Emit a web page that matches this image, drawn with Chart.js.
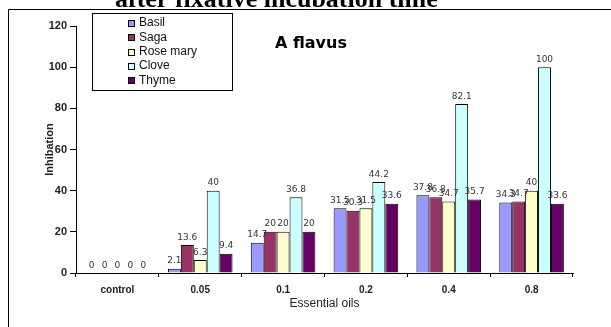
<!DOCTYPE html>
<html>
<head>
<meta charset="utf-8">
<script src="https://cdn.jsdelivr.net/npm/chart.js@4.4.0/dist/chart.umd.min.js"></script>
<style>
    html, body { margin: 0; padding: 0; background: #fff; overflow: hidden; }
    #wrap { position: relative; width: 611px; height: 327px; }
</style>
</head>
<body>
<div id="wrap"><canvas id="myChart" width="611" height="327"></canvas></div>
<script>
// chart data
const categories = ["control", "0.05", "0.1", "0.2", "0.4", "0.8"]
const seriesNames = ["Basil", "Saga", "Rose mary", "Clove", "Thyme"]
const basil = [0, 2.1, 14.7, 31.5, 37.8, 34.3]
const saga = [0, 13.6, 20, 30.3, 36.8, 34.7]
const rosemary = [0, 6.3, 20, 31.5, 34.7, 40]
const clove = [0, 40, 36.8, 44.2, 82.1, 100]
const thyme = [0, 9.4, 20, 33.6, 35.7, 33.6]
const yTicks = [0, 20, 40, 60, 80, 100, 120]

const colors = ["#9999FF", "#993366", "#FFFFCC", "#CCFFFF", "#660066"]
const allSeries = [basil, saga, rosemary, clove, thyme]

// frame, cut title, legend box, "A flavus" and value labels
const decorPlugin = {
    id: "decor",
    beforeDraw(chart) {
        const ctx = chart.ctx
        ctx.save()
        ctx.strokeStyle = "#000"
        ctx.lineWidth = 1
        ctx.beginPath()
        ctx.moveTo(8.5, 327)
        ctx.lineTo(8.5, 9.5)
        ctx.lineTo(611, 9.5)
        ctx.stroke()
        // title cut off at the top of the picture
        ctx.fillStyle = "#000"
        ctx.font = "bold 26px 'Liberation Serif', 'Times New Roman', serif"
        ctx.textBaseline = "alphabetic"
        ctx.textAlign = "left"
        ctx.fillText("after fixative incubation time", 115, 7)
        ctx.restore()
    },
    afterDatasetsDraw(chart) {
        const ctx = chart.ctx
        ctx.save()
        ctx.font = "9px 'DejaVu Sans', sans-serif"
        ctx.fillStyle = "#333"
        ctx.textAlign = "center"
        ctx.textBaseline = "alphabetic"
        chart.data.datasets.forEach((ds, i) => {
            const meta = chart.getDatasetMeta(i)
            meta.data.forEach((bar, j) => {
                ctx.fillText(String(ds.data[j]), bar.x, bar.y - 5.5)
            })
        })
        ctx.restore()
    },
    afterDraw(chart) {
        const ctx = chart.ctx
        ctx.save()
        // legend box
        ctx.fillStyle = "#fff"
        ctx.fillRect(92, 13, 140, 77)
        ctx.strokeStyle = "#000"
        ctx.lineWidth = 1
        ctx.strokeRect(92.5, 13.5, 140, 77)
        ctx.font = "12px 'Liberation Sans', Arial, sans-serif"
        ctx.textBaseline = "middle"
        ctx.textAlign = "left"
        chart.data.datasets.forEach((ds, i) => {
            const y = 23 + i * 14.3
            ctx.fillStyle = ds.backgroundColor
            ctx.fillRect(128, Math.round(y) - 3, 7, 7)
            ctx.strokeStyle = "#000"
            ctx.strokeRect(128.5, Math.round(y) - 2.5, 6, 6)
            ctx.fillStyle = "#111"
            ctx.fillText(ds.label, 139, y)
        })
        // panel name
        ctx.font = "bold 16px 'DejaVu Sans', Verdana, sans-serif"
        ctx.fillStyle = "#000"
        ctx.fillText("A flavus", 275, 44)
        ctx.restore()
    }
}

new Chart("myChart", {
    type: "bar",
    data: {
        labels: categories,
        datasets: allSeries.map((vals, i) => ({
            label: seriesNames[i],
            data: vals,
            backgroundColor: colors[i],
            borderColor: "#000",
            borderWidth: 1,
            borderSkipped: "start",
            categoryPercentage: 0.78,
            barPercentage: 1.0
        }))
    },
    options: {
        responsive: false,
        animation: false,
        layout: { padding: { top: 26, right: 38, bottom: 0, left: 0 } },
        plugins: {
            legend: { display: false },
            title: { display: false },
            tooltip: { enabled: false }
        },
        scales: {
            x: {
                afterFit: (scale) => { scale.height = 54 },
                grid: { display: true, drawOnChartArea: false, drawTicks: true, tickLength: 4, color: "#000", offset: true },
                border: { display: true, color: "#000", width: 1 },
                ticks: {
                    padding: 7,
                    color: "#222",
                    font: { family: "'Liberation Sans', Arial, sans-serif", size: 10, weight: "bold" }
                },
                title: {
                    display: true,
                    text: "Essential oils",
                    color: "#222",
                    padding: { top: 0, bottom: 16 },
                    font: { family: "'Liberation Sans', Arial, sans-serif", size: 12 }
                }
            },
            y: {
                min: 0,
                max: 120,
                afterFit: (scale) => { scale.width = 76 },
                afterBuildTicks: (scale) => { scale.ticks = yTicks.map(v => ({ value: v })) },
                grid: { display: true, drawOnChartArea: false, drawTicks: true, tickLength: 6, color: "#000" },
                border: { display: true, color: "#000", width: 1 },
                ticks: {
                    padding: 3,
                    color: "#222",
                    font: { family: "'Liberation Sans', Arial, sans-serif", size: 11, weight: "bold" }
                },
                title: {
                    display: true,
                    text: "Inhibation",
                    color: "#222",
                    padding: { top: 43, bottom: 0 },
                    font: { family: "'Liberation Sans', Arial, sans-serif", size: 11, weight: "bold" }
                }
            }
        }
    },
    plugins: [decorPlugin]
})
</script>
</body>
</html>
